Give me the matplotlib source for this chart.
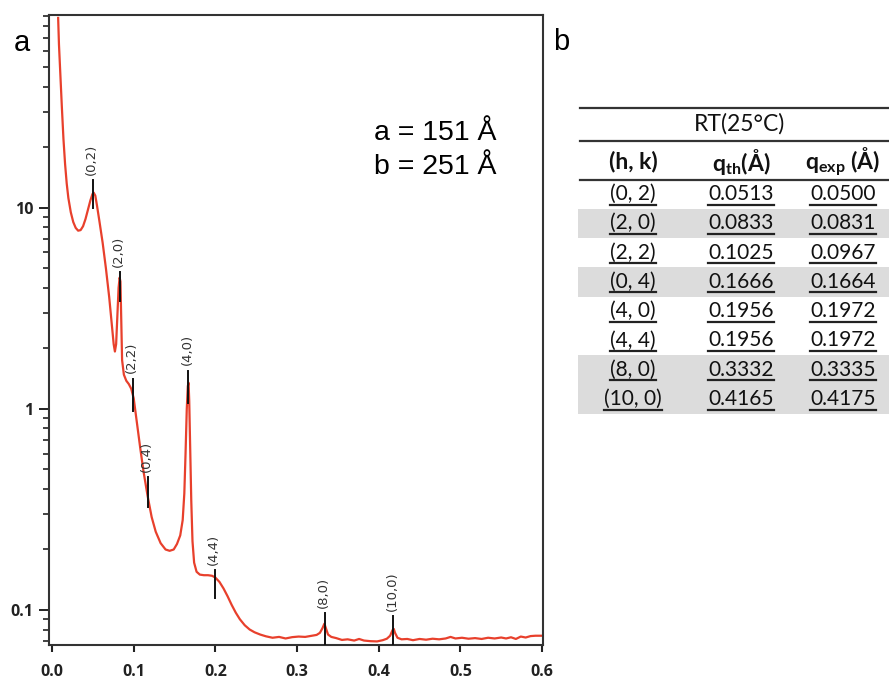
import matplotlib
matplotlib.use("Agg")
import matplotlib.pyplot as plt
from matplotlib.patches import Rectangle

# SAXS curve (panel a)
q = [0.0075, 0.0085, 0.010, 0.012, 0.014, 0.016, 0.018, 0.020, 0.023, 0.026,
     0.029, 0.032, 0.035, 0.038, 0.041, 0.044, 0.047, 0.0495, 0.051, 0.053,
     0.055, 0.058, 0.062, 0.066, 0.070, 0.073, 0.0755, 0.077, 0.0785, 0.080,
     0.0815, 0.0828, 0.0838, 0.0848, 0.0858, 0.088, 0.091, 0.094, 0.097, 0.100,
     0.104, 0.108, 0.112, 0.117, 0.122, 0.127, 0.133, 0.139, 0.144, 0.149,
     0.153, 0.157, 0.160, 0.162, 0.1635, 0.165, 0.1663, 0.1672, 0.168, 0.169,
     0.1705, 0.172, 0.174, 0.177, 0.181, 0.186, 0.191, 0.196, 0.200, 0.205,
     0.210, 0.215, 0.220, 0.225, 0.230, 0.236, 0.242, 0.248, 0.255, 0.262,
     0.270, 0.278, 0.286, 0.294, 0.302, 0.310, 0.318, 0.324, 0.328, 0.331,
     0.3335, 0.3355, 0.338, 0.342, 0.348, 0.355, 0.362, 0.370, 0.376, 0.382,
     0.390, 0.398, 0.405, 0.410, 0.414, 0.417, 0.4185, 0.420, 0.423, 0.428,
     0.435, 0.442, 0.450, 0.458, 0.466, 0.474, 0.482, 0.488, 0.494, 0.502,
     0.510, 0.518, 0.526, 0.534, 0.542, 0.550, 0.556, 0.562, 0.568, 0.574,
     0.580, 0.586, 0.592, 0.600]
intensity = [88, 65, 48, 32, 22, 16.5, 13.2, 11.2, 9.5, 8.5,
             7.95, 7.7, 7.75, 8.1, 8.8, 9.8, 10.9, 11.7, 11.9, 11.5,
             10.3, 8.6, 6.7, 5.0, 3.6, 2.7, 2.1, 1.93, 2.1, 2.9,
             4.0, 4.5, 4.3, 2.8, 1.75, 1.48, 1.38, 1.33, 1.26, 1.13,
             0.85, 0.64, 0.49, 0.37, 0.29, 0.245, 0.215, 0.2, 0.197, 0.2,
             0.213, 0.235, 0.28, 0.38, 0.6, 1.0, 1.3, 1.35, 1.1, 0.7,
             0.35, 0.22, 0.172, 0.155, 0.15, 0.149, 0.149, 0.148, 0.145, 0.138,
             0.128, 0.117, 0.106, 0.097, 0.090, 0.084, 0.080, 0.0775, 0.0755, 0.074,
             0.0728, 0.0735, 0.0722, 0.0733, 0.0738, 0.0735, 0.0745, 0.0752, 0.077, 0.081,
             0.0855, 0.081, 0.0755, 0.0735, 0.0725, 0.071, 0.0715, 0.0705, 0.0718, 0.0705,
             0.070, 0.0698, 0.0708, 0.072, 0.0745, 0.0795, 0.0805, 0.077, 0.0728, 0.0715,
             0.0718, 0.0708, 0.0718, 0.0712, 0.072, 0.0715, 0.0722, 0.0735, 0.0722, 0.0728,
             0.072, 0.0725, 0.0718, 0.0728, 0.0722, 0.073, 0.0722, 0.0732, 0.0718, 0.0738,
             0.073, 0.0742, 0.0745, 0.0745]

# indexed reflections: label, position, marker bottom / top
peak_labels = ['(0,2)', '(2,0)', '(2,2)', '(0,4)', '(4,0)', '(4,4)', '(8,0)', '(10,0)']
peak_q = [0.0503, 0.0834, 0.0994, 0.117, 0.167, 0.199, 0.334, 0.418]
peak_lo = [9.95, 3.46, 0.977, 0.325, 1.07, 0.115, 0.0666, 0.064]
peak_hi = [13.7, 4.77, 1.41, 0.458, 1.55, 0.158, 0.0963, 0.093]

# table (panel b)
table_title = 'RT(25°C)'
table_header = ['(h, k)', r'q$_{\mathbf{th}}$(Å)', r'q$_{\mathbf{exp}}$ (Å)']
hk = ['(0, 2)', '(2, 0)', '(2, 2)', '(0, 4)', '(4, 0)', '(4, 4)', '(8, 0)', '(10, 0)']
q_th = ['0.0513', '0.0833', '0.1025', '0.1666', '0.1956', '0.1956', '0.3332', '0.4165']
q_exp = ['0.0500', '0.0831', '0.0967', '0.1664', '0.1972', '0.1972', '0.3335', '0.4175']
shaded = [False, True, False, True, False, False, True, True]

plt.rcParams['mathtext.fontset'] = 'custom'
plt.rcParams['mathtext.rm'] = 'Lato'
plt.rcParams['mathtext.bf'] = 'Lato:bold'

fig = plt.figure(figsize=(8.89, 6.8), dpi=100)
ax = fig.add_axes([49 / 889, 1 - 645 / 680, (543 - 49) / 889, (645 - 15) / 680])

red = '#e8402c'
ax.plot(q, intensity, color=red, lw=1.6, zorder=2)
ax.set_yscale('log')
ax.set_xlim(-0.0037, 0.6012)
ax.set_ylim(0.067, 91)

for lab, x, lo, hi in zip(peak_labels, peak_q, peak_lo, peak_hi):
    ax.plot([x, x], [lo, hi], color='#111111', lw=1.4, zorder=3)
    ax.annotate(lab, xy=(x, hi), xytext=(-1, 4), textcoords='offset points',
                rotation=90, ha='center', va='bottom', fontsize=9.5,
                color='#333333', family='DejaVu Sans')

ax.set_xticks([0.0, 0.1, 0.2, 0.3, 0.4, 0.5, 0.6])
ax.set_xticklabels(['0.0', '0.1', '0.2', '0.3', '0.4', '0.5', '0.6'])
ax.set_yticks([0.1, 1, 10])
ax.set_yticklabels(['0.1', '1', '10'])
ax.tick_params(axis='x', which='major', length=5, width=1.5, pad=9,
               labelsize=11.5, colors='#222222')
ax.tick_params(axis='x', which='minor', bottom=False)
ax.tick_params(axis='y', which='major', length=7.2, width=1.4, pad=4,
               labelsize=11.5, colors='#222222')
ax.tick_params(axis='y', which='minor', length=4.3, width=1.2, colors='#222222')
for lbl in ax.get_xticklabels() + ax.get_yticklabels():
    lbl.set_family('Open Sans')
    lbl.set_fontweight('bold')
for s in ax.spines.values():
    s.set_linewidth(1.5)
    s.set_color('#333333')

# overlay in pixel coordinates for panel letters and the table
ov = fig.add_axes([0, 0, 1, 1], facecolor='none')
ov.set_xlim(0, 889)
ov.set_ylim(680, 0)
ov.axis('off')

ov.text(22, 43, 'a', fontsize=21, ha='center', va='center', family='Liberation Sans')
ov.text(561, 42, 'b', fontsize=21, ha='center', va='center', family='Liberation Sans')
ov.text(374, 133, 'a = 151 Å', fontsize=20.5, ha='left', va='center', family='Liberation Sans')
ov.text(374, 167, 'b = 251 Å', fontsize=20.5, ha='left', va='center', family='Liberation Sans')

tx0, tx1 = 578, 889
row_y0 = 194
row_h = 29.3
col_x = [633, 741, 843]
line_c = '#333333'

ov.plot([580, tx1], [108, 108], color=line_c, lw=1.6)
ov.plot([580, tx1], [141, 141], color=line_c, lw=1.6)
ov.plot([580, tx1], [180, 180], color=line_c, lw=1.6)
ov.text(739, 124, table_title, fontsize=16.5, ha='center', va='center',
        family='Lato', color='#111111')
for x, h in zip(col_x, table_header):
    ov.text(x, 162, h, fontsize=16.5, ha='center', va='center', family='Lato',
            fontweight='bold', color='#111111')

cells = []
for i in range(len(hk)):
    yc = row_y0 + i * row_h
    if shaded[i]:
        ov.add_patch(Rectangle((tx0, yc - row_h / 2), tx1 - tx0, row_h,
                               facecolor='#dcdcdc', edgecolor='none', zorder=0))
    for x, s in zip(col_x, [hk[i], q_th[i], q_exp[i]]):
        t = ov.text(x, yc, s, fontsize=15, ha='center', va='center',
                    family='Lato', color='#111111', zorder=2)
        cells.append((t, yc))

fig.canvas.draw()
r = fig.canvas.get_renderer()
for t, yc in cells:
    bb = t.get_window_extent(r)
    ov.plot([bb.x0, bb.x1], [yc + 10.5, yc + 10.5], color='#222222', lw=1.6, zorder=3)

fig.savefig('out.png', dpi=100)
